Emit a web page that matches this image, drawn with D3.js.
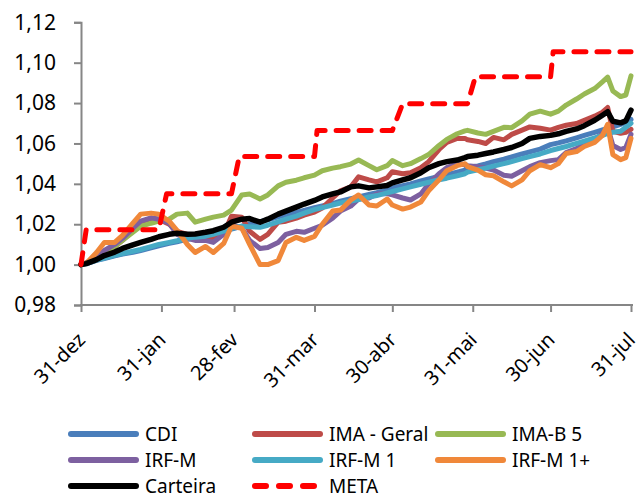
<!DOCTYPE html>
<html><head><meta charset="utf-8">
<script src="https://cdn.jsdelivr.net/npm/d3@7/dist/d3.min.js"></script>
<style>html,body{margin:0;padding:0;background:#fff;}svg{display:block;}</style>
</head><body>
<svg id="chart" width="640" height="498"></svg>
<script>
const dates = ["2014-12-31","2015-01-02","2015-01-06","2015-01-09","2015-01-13","2015-01-16","2015-01-20","2015-01-23","2015-01-27","2015-01-30",
"2015-02-03","2015-02-06","2015-02-10","2015-02-13","2015-02-17","2015-02-20","2015-02-24","2015-02-27",
"2015-03-03","2015-03-06","2015-03-10","2015-03-13","2015-03-17","2015-03-20","2015-03-24","2015-03-27","2015-03-31",
"2015-04-03","2015-04-07","2015-04-10","2015-04-14","2015-04-17","2015-04-21","2015-04-24","2015-04-28","2015-04-30",
"2015-05-04","2015-05-07","2015-05-11","2015-05-14","2015-05-18","2015-05-21","2015-05-25","2015-05-28","2015-05-29",
"2015-06-02","2015-06-05","2015-06-08","2015-06-12","2015-06-15","2015-06-19","2015-06-22","2015-06-26","2015-06-30",
"2015-07-03","2015-07-06","2015-07-10","2015-07-13","2015-07-17","2015-07-20","2015-07-22","2015-07-24","2015-07-27","2015-07-29","2015-07-31"];

const cdi = [1.0000,1.0004,1.0021,1.0030,1.0043,1.0052,1.0061,1.0070,1.0083,1.0093,
1.0105,1.0113,1.0126,1.0132,1.0138,1.0146,1.0163,1.0176,
1.0190,1.0200,1.0213,1.0222,1.0236,1.0246,1.0258,1.0268,1.0282,
1.0291,1.0302,1.0314,1.0327,1.0335,1.0348,1.0356,1.0370,1.0380,
1.0391,1.0400,1.0414,1.0424,1.0437,1.0445,1.0458,1.0468,1.0482,
1.0489,1.0499,1.0510,1.0522,1.0533,1.0548,1.0558,1.0572,1.0594,
1.0603,1.0613,1.0628,1.0640,1.0655,1.0667,1.0675,1.0682,1.0695,1.0704,1.0719];

const imaGeral = [1.0000,1.0008,1.0040,1.0060,1.0090,1.0120,1.0170,1.0205,1.0228,1.0225,
1.0200,1.0165,1.0150,1.0140,1.0135,1.0130,1.0150,1.0240,
1.0235,1.0165,1.0125,1.0150,1.0210,1.0215,1.0230,1.0245,1.0260,
1.0280,1.0330,1.0365,1.0385,1.0435,1.0420,1.0410,1.0430,1.0460,
1.0450,1.0455,1.0480,1.0510,1.0570,1.0605,1.0625,1.0625,1.0618,
1.0610,1.0600,1.0630,1.0618,1.0645,1.0666,1.0682,1.0675,1.0666,
1.0680,1.0690,1.0699,1.0715,1.0735,1.0755,1.0778,1.0660,1.0650,1.0655,1.0670];

const imaB5 = [1.0000,1.0008,1.0040,1.0060,1.0090,1.0120,1.0160,1.0190,1.0205,1.0215,
1.0225,1.0250,1.0255,1.0210,1.0225,1.0235,1.0245,1.0270,
1.0345,1.0350,1.0325,1.0345,1.0390,1.0408,1.0418,1.0430,1.0443,
1.0465,1.0478,1.0485,1.0498,1.0518,1.0490,1.0470,1.0490,1.0515,
1.0490,1.0500,1.0525,1.0545,1.0590,1.0620,1.0648,1.0662,1.0665,
1.0652,1.0645,1.0660,1.0680,1.0678,1.0712,1.0745,1.0760,1.0745,
1.0760,1.0790,1.0820,1.0845,1.0872,1.0905,1.0928,1.0860,1.0832,1.0840,1.0935];

const irfM = [1.0000,1.0006,1.0040,1.0070,1.0100,1.0130,1.0180,1.0215,1.0232,1.0225,
1.0205,1.0150,1.0130,1.0120,1.0120,1.0110,1.0150,1.0200,
1.0180,1.0120,1.0080,1.0085,1.0110,1.0150,1.0165,1.0160,1.0180,
1.0195,1.0230,1.0265,1.0290,1.0325,1.0330,1.0350,1.0352,1.0345,
1.0330,1.0320,1.0350,1.0400,1.0450,1.0480,1.0500,1.0495,1.0490,
1.0485,1.0478,1.0468,1.0443,1.0438,1.0465,1.0485,1.0505,1.0515,
1.0520,1.0555,1.0575,1.0595,1.0620,1.0650,1.0680,1.0590,1.0570,1.0580,1.0645];

const irfM1 = [1.0000,1.0005,1.0022,1.0032,1.0046,1.0055,1.0066,1.0075,1.0089,1.0100,
1.0110,1.0118,1.0130,1.0136,1.0141,1.0150,1.0166,1.0180,
1.0190,1.0188,1.0185,1.0195,1.0212,1.0225,1.0240,1.0255,1.0272,
1.0282,1.0295,1.0305,1.0315,1.0322,1.0335,1.0342,1.0355,1.0362,
1.0375,1.0385,1.0398,1.0408,1.0420,1.0428,1.0440,1.0450,1.0458,
1.0470,1.0478,1.0488,1.0500,1.0510,1.0525,1.0535,1.0548,1.0565,
1.0575,1.0585,1.0600,1.0612,1.0628,1.0640,1.0650,1.0655,1.0660,1.0680,1.0700];

const irfM1plus = [1.0000,1.0006,1.0060,1.0110,1.0110,1.0145,1.0205,1.0250,1.0255,1.0250,
1.0215,1.0170,1.0100,1.0060,1.0090,1.0060,1.0105,1.0190,
1.0180,1.0100,1.0000,1.0000,1.0020,1.0110,1.0135,1.0120,1.0140,
1.0200,1.0265,1.0270,1.0320,1.0345,1.0295,1.0290,1.0325,1.0295,
1.0275,1.0285,1.0310,1.0365,1.0420,1.0465,1.0490,1.0500,1.0485,
1.0468,1.0445,1.0440,1.0410,1.0390,1.0420,1.0465,1.0495,1.0480,
1.0500,1.0550,1.0560,1.0585,1.0605,1.0640,1.0695,1.0545,1.0520,1.0530,1.0625];

const carteira = [1.0000,1.0005,1.0025,1.0045,1.0062,1.0080,1.0098,1.0110,1.0125,1.0138,
1.0150,1.0155,1.0150,1.0152,1.0160,1.0168,1.0185,1.0210,
1.0225,1.0228,1.0210,1.0225,1.0250,1.0265,1.0285,1.0300,1.0318,
1.0335,1.0350,1.0360,1.0385,1.0390,1.0380,1.0385,1.0392,1.0405,
1.0420,1.0430,1.0455,1.0480,1.0500,1.0510,1.0518,1.0530,1.0535,
1.0542,1.0550,1.0558,1.0570,1.0580,1.0600,1.0625,1.0635,1.0640,
1.0648,1.0660,1.0672,1.0688,1.0715,1.0740,1.0757,1.0710,1.0702,1.0712,1.0765];

const metaDates = ["2014-12-31","2015-01-02","2015-01-30","2015-02-02","2015-02-27","2015-03-02","2015-03-31","2015-04-01",
"2015-04-30","2015-05-04","2015-05-29","2015-06-01","2015-06-30","2015-07-01","2015-07-31"];
const metaValues = [1.0000,1.0173,1.0173,1.0351,1.0351,1.0535,1.0535,1.0664,1.0664,1.0797,1.0797,1.0930,1.0930,1.1054,1.1054];

const yTicks = [0.98,1.00,1.02,1.04,1.06,1.08,1.10,1.12];
const yTickLabels = ["0,98","1,00","1,02","1,04","1,06","1,08","1,10","1,12"];
const xTickDates = ["2014-12-31","2015-01-31","2015-02-28","2015-03-31","2015-04-30","2015-05-31","2015-06-30","2015-07-31"];
const xTickLabels = ["31-dez","31-jan","28-fev","31-mar","30-abr","31-mai","30-jun","31-jul"];

const seriesNames = ["CDI","IMA - Geral","IMA-B 5","IRF-M","IRF-M 1","IRF-M 1+","Carteira","META"];
const seriesColors = ["#4A7EBB","#BE4B48","#98B954","#7D60A0","#46AAC5","#F0883A","#000000","#FF0000"];

const parse = d3.utcParse("%Y-%m-%d");
const svg = d3.select("#chart");
const font = "'Noto Sans', 'Open Sans', sans-serif";

const x = d3.scaleUtc().domain([parse(xTickDates[0]), parse(xTickDates[xTickDates.length-1])]).range([81, 631]);
const y = d3.scaleLinear().domain([0.98, 1.12]).range([305, 22.3]);
const axisColor = "#868686";

// Y axis
const yAxis = d3.axisLeft(y).tickValues(yTicks).tickSize(7).tickPadding(18)
  .tickFormat((d,i) => yTickLabels[i]);
const gy = svg.append("g").attr("transform","translate(81,0)").call(yAxis);
gy.select(".domain").attr("stroke",axisColor).attr("stroke-width",2);
gy.selectAll(".tick line").attr("stroke",axisColor).attr("stroke-width",2);
gy.selectAll(".tick text").attr("font-family",font).attr("font-size",21).attr("fill","#000");

// X axis
const xAxis = d3.axisBottom(x).tickValues(xTickDates.map(parse)).tickSize(7).tickSizeOuter(0)
  .tickFormat((d,i) => xTickLabels[i]);
const gx = svg.append("g").attr("transform","translate(0,305)").call(xAxis);
gx.select(".domain").attr("stroke",axisColor).attr("stroke-width",2).attr("d","M80,0H633");
gx.selectAll(".tick line").attr("stroke",axisColor).attr("stroke-width",2);
gx.selectAll(".tick text").attr("font-family",font).attr("font-size",20).attr("fill","#000")
  .attr("text-anchor","end").attr("dy","0").attr("y",0)
  .attr("transform","translate(5,36) rotate(-45)");

// Lines
const allSeries = [cdi, imaGeral, imaB5, irfM, irfM1, irfM1plus, carteira];
const line = d3.line().x(d => x(d[0])).y(d => y(d[1])).curve(d3.curveLinear);
const g = svg.append("g");
allSeries.forEach((vals, i) => {
  const pts = dates.map((d,j) => [parse(d), vals[j]]);
  g.append("path").datum(pts).attr("d", line)
    .attr("fill","none").attr("stroke",seriesColors[i])
    .attr("stroke-width", i===6 ? 5.5 : 5).attr("stroke-linejoin","round").attr("stroke-linecap","round");
});
const metaPts = metaDates.map((d,j) => [parse(d), metaValues[j]]);
g.append("path").datum(metaPts).attr("d", line)
  .attr("fill","none").attr("stroke",seriesColors[7]).attr("stroke-width",5)
  .attr("stroke-dasharray","12,11").attr("stroke-linecap","round").attr("stroke-linejoin","round");

// Legend
const legCols = [68, 252, 435];
const legRows = [434, 460, 486];
const leg = svg.append("g");
seriesNames.forEach((name, i) => {
  const cx = legCols[i % 3], cy = legRows[Math.floor(i / 3)];
  const l = leg.append("line").attr("x1", cx + 3).attr("x2", cx + 68).attr("y1", cy).attr("y2", cy)
    .attr("stroke", seriesColors[i]).attr("stroke-width", 6).attr("stroke-linecap","round");
  if (i === 7) l.attr("stroke-dasharray","11,13").attr("stroke-width",6);
  leg.append("text").attr("x", cx + 77).attr("y", cy).attr("dy","0.35em")
    .attr("font-family", font).attr("font-size", 19).attr("fill","#000").text(name);
});
</script>
</body></html>
